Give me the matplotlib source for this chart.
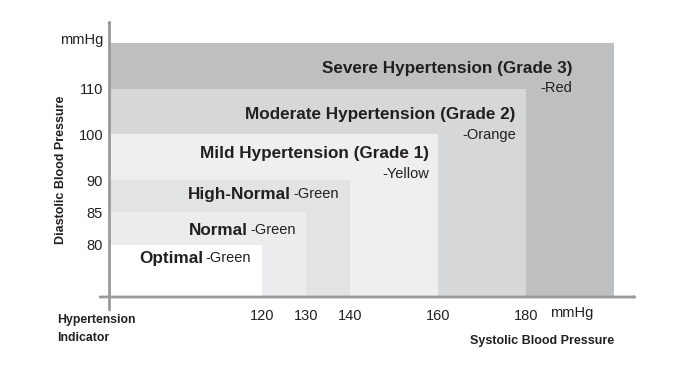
import numpy as np
import matplotlib
matplotlib.use("Agg")
import matplotlib.pyplot as plt

# Klassen, von außen nach innen
categories = [
    "Severe Hypertension (Grade 3)",
    "Moderate Hypertension (Grade 2)",
    "Mild Hypertension (Grade 1)",
    "High-Normal",
    "Normal",
    "Optimal",
]
color_names = ["Red", "Orange", "Yellow", "Green", "Green", "Green"]
systolic_max = [200, 180, 160, 140, 130, 120]
diastolic_max = [120, 110, 100, 90, 85, 80]
systolic_ticks = [120, 130, 140, 160, 180]
diastolic_ticks = [80, 85, 90, 100, 110]

SYS_MIN = 85.5
DIA_MIN = 70

fill_colors = ["#bebfc1", "#d6d7d9", "#efeff0", "#e2e3e5", "#ececee", "#ffffff"]
TXT = "#231f20"
AXIS_GRAY = "#9a9a9a"

# y-Achse ist im Original nicht linear -> stückweise lineare Skala
_yv = np.array([70, 80, 85, 90, 100, 110, 120], dtype=float)
_yp = np.array([0, 52, 85, 117, 163, 208, 254], dtype=float)


def fwd(v):
    return np.interp(v, _yv, _yp)


def inv(p):
    return np.interp(p, _yp, _yv)


plt.rcParams["font.family"] = ["Liberation Sans", "DejaVu Sans"]

W, H = 677, 375
fig = plt.figure(figsize=(W / 100, H / 100), dpi=100)
ax = fig.add_axes([110 / W, (H - 297) / H, (614 - 110) / W, (297 - 43) / H])
ax.set_yscale("function", functions=(fwd, inv))
ax.set_xlim(SYS_MIN, 200)
ax.set_ylim(DIA_MIN, 120)

for i, cat in enumerate(categories):
    ax.bar(SYS_MIN, diastolic_max[i] - DIA_MIN, width=systolic_max[i] - SYS_MIN,
           bottom=DIA_MIN, align="edge", color=fill_colors[i], linewidth=0, zorder=1)

for s in ax.spines.values():
    s.set_visible(False)
ax.set_xticks(systolic_ticks)
ax.set_xticklabels([str(t) for t in systolic_ticks])
ax.set_yticks(diastolic_ticks)
ax.set_yticklabels([str(t) for t in diastolic_ticks])
ax.yaxis.set_minor_locator(matplotlib.ticker.NullLocator())
ax.tick_params(axis="x", length=0, pad=9, labelsize=10.5, labelcolor=TXT)
ax.tick_params(axis="y", length=0, pad=5, labelsize=10.5, labelcolor=TXT)

# Beschriftungen der Klassen
big = 12.3
small = 10.5
# die oberen drei rechtsbündig, zweizeilig
right_x = [190.5, 177.7, 158.0]
off1 = [25, 26, 20]
off2 = [45, 46, 40]
for i in range(3):
    top = diastolic_max[i]
    ax.text(right_x[i], inv(fwd(top) - off1[i]), categories[i], ha="right", va="center",
            fontsize=big, fontweight="bold", color=TXT, zorder=3)
    ax.text(right_x[i], inv(fwd(top) - off2[i]), "-" + color_names[i], ha="right", va="center",
            fontsize=small, color=TXT, zorder=3)

left_x = [103.2, 103.4, 92.05]
y_off = [-14, -18, -13]
for k, i in enumerate(range(3, 6)):
    top = diastolic_max[i]
    t = ax.annotate(categories[i], (left_x[k], inv(fwd(top) + y_off[k])), ha="left", va="center",
                    fontsize=big, fontweight="bold", color=TXT, zorder=3)
    ax.annotate("-" + color_names[i], xy=(1, 0.5), xycoords=t, xytext=(2, 0),
                textcoords="offset points", ha="left", va="center",
                fontsize=small, color=TXT, zorder=3)

# Achsenlinien mit Pfeilen (in Figurenpixeln)
def fp(x, y):
    return (x / W, (H - y) / H)


arrow = dict(arrowstyle="-|>,head_length=0.5,head_width=0.22", color=AXIS_GRAY, lw=2,
             shrinkA=0, shrinkB=0)
fig.add_artist(matplotlib.patches.FancyArrowPatch(fp(100, 297), fp(638, 297),
                                                  transform=fig.transFigure, **arrow))
fig.add_artist(matplotlib.patches.FancyArrowPatch(fp(109.5, 310), fp(109.5, 19),
                                                  transform=fig.transFigure, **arrow))

fig.text(*fp(103, 40), "mmHg", ha="right", va="center", fontsize=10.5, color=TXT)
fig.text(*fp(572, 313), "mmHg", ha="center", va="center", fontsize=10.5, color=TXT)
fig.text(*fp(61, 170), "Diastolic Blood Pressure", rotation=90, ha="center", va="center",
         fontsize=9, fontweight="bold", color=TXT)
fig.text(*fp(57, 329), "Hypertension\nIndicator", ha="left", va="center",
         fontsize=8.8, fontweight="bold", color=TXT, linespacing=1.65)
fig.text(*fp(614, 341), "Systolic Blood Pressure", ha="right", va="center",
         fontsize=9, fontweight="bold", color=TXT)

fig.savefig("out.png", dpi=100)
